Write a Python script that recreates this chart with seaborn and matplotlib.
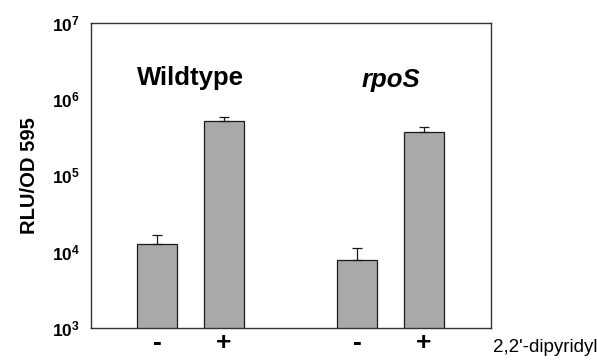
"""
Luciferase reporter activity (RLU/OD 595) in wildtype and rpoS strains,
with and without 2,2'-dipyridyl.
"""

import math
import pandas as pd
import matplotlib.pyplot as plt
import seaborn as sns

# ---------------------------------------------------------
# Data
# ---------------------------------------------------------
strains = ["Wildtype", "rpoS", "Wildtype", "rpoS"]
treatment = ["-", "-", "+", "+"]
rlu = [1.26e4, 7.8e3, 5.16e5, 3.7e5]
rlu_err = [0.40e4, 0.34e4, 0.64e5, 0.6e5]
y_ticks = [1e3, 1e4, 1e5, 1e6, 1e7]

df = pd.DataFrame({"strain": strains, "dip": treatment, "rlu": rlu, "err": rlu_err})

# ---------------------------------------------------------
# Plot
# ---------------------------------------------------------
sns.set_style("white")
plt.rcParams["font.family"] = ["Liberation Sans", "DejaVu Sans"]
plt.rcParams["text.color"] = "black"
plt.rcParams["xtick.color"] = "black"
plt.rcParams["ytick.color"] = "black"
plt.rcParams["axes.labelcolor"] = "black"
plt.rcParams["mathtext.fontset"] = "custom"
plt.rcParams["mathtext.bf"] = "Liberation Sans:bold"
plt.rcParams["mathtext.rm"] = "Liberation Sans"

fig, ax = plt.subplots(figsize=(5.97, 3.62), dpi=100)
fig.subplots_adjust(left=0.152, right=0.822, top=0.937, bottom=0.094)

sns.barplot(data=df, x="strain", y="rlu", hue="dip", order=["Wildtype", "rpoS"],
            hue_order=["-", "+"], palette=["#a9a9a9", "#a9a9a9"], width=0.667,
            gap=0.4, edgecolor="#1a1a1a", linewidth=0.9, errorbar=None,
            legend=False, ax=ax)

ax.set_yscale("log")
ax.set_ylim(1e3, 1e7)
ax.set_xlim(-0.5, 1.5)

# error bars (upper only), taken from the bar containers
centers, labels = [], []
for level, cont in zip(["-", "+"], ax.containers):
    sub = df[df["dip"] == level].set_index("strain").loc[["Wildtype", "rpoS"]]
    xs = [p.get_x() + p.get_width() / 2 for p in cont]
    ax.errorbar(xs, sub["rlu"], yerr=[[0] * len(xs), sub["err"]], fmt="none",
                ecolor="#1a1a1a", elinewidth=0.9, capsize=3.3, capthick=0.9)
    centers += xs
    labels += [level] * len(xs)

ax.set_xticks(centers)
ax.set_xticklabels(labels, fontsize=19, fontweight="bold")
ax.set_yticks(y_ticks)
ax.set_yticklabels([rf"$\mathbf{{10^{{{int(round(math.log10(t)))}}}}}$" for t in y_ticks],
                   fontsize=12.5)
ax.minorticks_off()
ax.tick_params(axis="both", length=0)
ax.tick_params(axis="y", pad=8)
ax.tick_params(axis="x", pad=2)

ax.set_xlabel("")
ax.set_ylabel("RLU/OD 595", fontsize=14.5, fontweight="bold", labelpad=9)

for s in ax.spines.values():
    s.set_visible(True)
    s.set_color("#333333")
    s.set_linewidth(1.0)

ax.text(0, 1.9e6, "Wildtype", ha="center", va="center", fontsize=18.5, fontweight="bold")
ax.text(1, 1.8e6, "rpoS", ha="center", va="center", fontsize=18.5, fontweight="bold",
        style="italic")
ax.text(1.005, -0.065, "2,2'-dipyridyl", transform=ax.transAxes, ha="left",
        va="center", fontsize=13.5)

plt.savefig("out.png", dpi=100)
plt.close()
